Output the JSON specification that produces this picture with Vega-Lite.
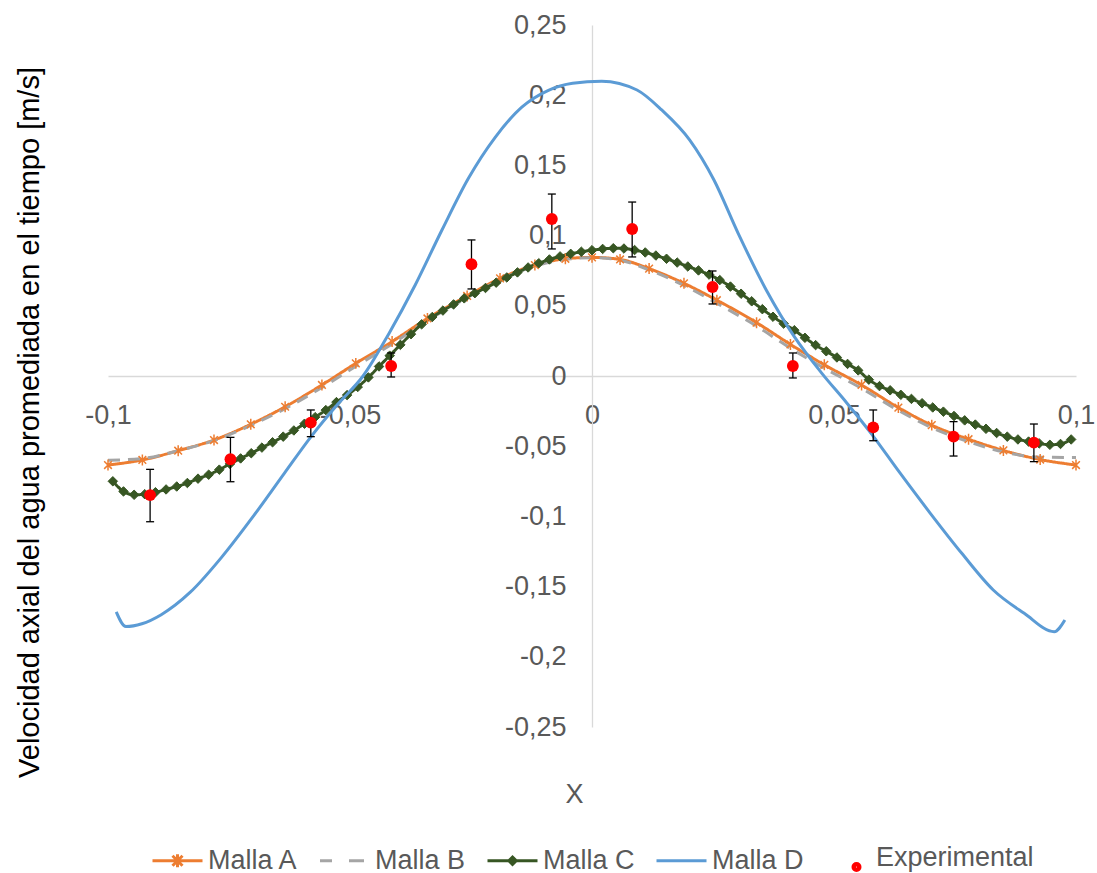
{
  "$schema": "https://vega.github.io/schema/vega-lite/v6.json",
  "width": 968,
  "height": 702,
  "autosize": {"type": "none"},
  "padding": {"left": 108, "top": 25, "right": 21, "bottom": 146},
  "background": "white",
  "config": {"view": {"stroke": null}, "font": "Liberation Sans"},
  "datasets": {
    "curves": [
      {"series":"Malla A","x":-0.1,"y":-0.0634},{"series":"Malla A","x":-0.0929,"y":-0.0598},{"series":"Malla A","x":-0.0855,"y":-0.0532},{"series":"Malla A","x":-0.0781,"y":-0.0456},{"series":"Malla A","x":-0.0705,"y":-0.0344},{"series":"Malla A","x":-0.0634,"y":-0.0219},{"series":"Malla A","x":-0.0558,"y":-0.0064},{"series":"Malla A","x":-0.0488,"y":0.009},{"series":"Malla A","x":-0.0413,"y":0.0245},{"series":"Malla A","x":-0.034,"y":0.041},{"series":"Malla A","x":-0.0258,"y":0.057},{"series":"Malla A","x":-0.019,"y":0.0695},{"series":"Malla A","x":-0.0118,"y":0.079},{"series":"Malla A","x":-0.0055,"y":0.0835},{"series":"Malla A","x":0.0,"y":0.0845},{"series":"Malla A","x":0.0058,"y":0.083},{"series":"Malla A","x":0.0118,"y":0.0765},{"series":"Malla A","x":0.019,"y":0.066},{"series":"Malla A","x":0.0258,"y":0.054},{"series":"Malla A","x":0.034,"y":0.038},{"series":"Malla A","x":0.041,"y":0.0225},{"series":"Malla A","x":0.048,"y":0.008},{"series":"Malla A","x":0.0557,"y":-0.0064},{"series":"Malla A","x":0.0633,"y":-0.0225},{"series":"Malla A","x":0.0702,"y":-0.035},{"series":"Malla A","x":0.0778,"y":-0.045},{"series":"Malla A","x":0.085,"y":-0.053},{"series":"Malla A","x":0.0926,"y":-0.0595},{"series":"Malla A","x":0.1,"y":-0.0634},
      {"series":"Malla B","x":-0.1,"y":-0.06},{"series":"Malla B","x":-0.0929,"y":-0.0588},{"series":"Malla B","x":-0.0855,"y":-0.0532},{"series":"Malla B","x":-0.0781,"y":-0.046},{"series":"Malla B","x":-0.0705,"y":-0.0352},{"series":"Malla B","x":-0.0634,"y":-0.0232},{"series":"Malla B","x":-0.0558,"y":-0.0082},{"series":"Malla B","x":-0.0488,"y":0.007},{"series":"Malla B","x":-0.0413,"y":0.0228},{"series":"Malla B","x":-0.034,"y":0.0395},{"series":"Malla B","x":-0.0258,"y":0.0558},{"series":"Malla B","x":-0.019,"y":0.0685},{"series":"Malla B","x":-0.0118,"y":0.0782},{"series":"Malla B","x":-0.0055,"y":0.083},{"series":"Malla B","x":0.0,"y":0.0843},{"series":"Malla B","x":0.0058,"y":0.0825},{"series":"Malla B","x":0.0118,"y":0.0755},{"series":"Malla B","x":0.019,"y":0.0645},{"series":"Malla B","x":0.0258,"y":0.0518},{"series":"Malla B","x":0.034,"y":0.0355},{"series":"Malla B","x":0.041,"y":0.0198},{"series":"Malla B","x":0.048,"y":0.0055},{"series":"Malla B","x":0.0557,"y":-0.0088},{"series":"Malla B","x":0.0633,"y":-0.0245},{"series":"Malla B","x":0.0702,"y":-0.0368},{"series":"Malla B","x":0.0778,"y":-0.0468},{"series":"Malla B","x":0.085,"y":-0.054},{"series":"Malla B","x":0.0926,"y":-0.0578},{"series":"Malla B","x":0.1,"y":-0.058},
      {"series":"Malla C","x":-0.099,"y":-0.075},{"series":"Malla C","x":-0.0968,"y":-0.0822},{"series":"Malla C","x":-0.0946,"y":-0.0846},{"series":"Malla C","x":-0.0924,"y":-0.0842},{"series":"Malla C","x":-0.0902,"y":-0.0828},{"series":"Malla C","x":-0.088,"y":-0.0808},{"series":"Malla C","x":-0.0858,"y":-0.0787},{"series":"Malla C","x":-0.0836,"y":-0.0762},{"series":"Malla C","x":-0.0814,"y":-0.0731},{"series":"Malla C","x":-0.0792,"y":-0.0703},{"series":"Malla C","x":-0.077,"y":-0.0667},{"series":"Malla C","x":-0.0748,"y":-0.0626},{"series":"Malla C","x":-0.0726,"y":-0.0587},{"series":"Malla C","x":-0.0704,"y":-0.055},{"series":"Malla C","x":-0.0682,"y":-0.051},{"series":"Malla C","x":-0.066,"y":-0.0472},{"series":"Malla C","x":-0.0638,"y":-0.0432},{"series":"Malla C","x":-0.0616,"y":-0.0388},{"series":"Malla C","x":-0.0594,"y":-0.034},{"series":"Malla C","x":-0.0572,"y":-0.0293},{"series":"Malla C","x":-0.055,"y":-0.0243},{"series":"Malla C","x":-0.0528,"y":-0.0186},{"series":"Malla C","x":-0.0506,"y":-0.0136},{"series":"Malla C","x":-0.0484,"y":-0.0078},{"series":"Malla C","x":-0.0462,"y":-0.001},{"series":"Malla C","x":-0.044,"y":0.0068},{"series":"Malla C","x":-0.0418,"y":0.0145},{"series":"Malla C","x":-0.0396,"y":0.0222},{"series":"Malla C","x":-0.0374,"y":0.0298},{"series":"Malla C","x":-0.0352,"y":0.0368},{"series":"Malla C","x":-0.033,"y":0.042},{"series":"Malla C","x":-0.0308,"y":0.0466},{"series":"Malla C","x":-0.0286,"y":0.051},{"series":"Malla C","x":-0.0264,"y":0.0553},{"series":"Malla C","x":-0.0242,"y":0.059},{"series":"Malla C","x":-0.022,"y":0.0627},{"series":"Malla C","x":-0.0198,"y":0.0665},{"series":"Malla C","x":-0.0176,"y":0.0702},{"series":"Malla C","x":-0.0154,"y":0.0738},{"series":"Malla C","x":-0.0132,"y":0.0773},{"series":"Malla C","x":-0.011,"y":0.0803},{"series":"Malla C","x":-0.0088,"y":0.083},{"series":"Malla C","x":-0.0066,"y":0.0852},{"series":"Malla C","x":-0.0044,"y":0.087},{"series":"Malla C","x":-0.0022,"y":0.0885},{"series":"Malla C","x":0.0,"y":0.0896},{"series":"Malla C","x":0.0022,"y":0.0905},{"series":"Malla C","x":0.0044,"y":0.091},{"series":"Malla C","x":0.0066,"y":0.0908},{"series":"Malla C","x":0.0088,"y":0.0897},{"series":"Malla C","x":0.011,"y":0.088},{"series":"Malla C","x":0.0132,"y":0.0858},{"series":"Malla C","x":0.0154,"y":0.0835},{"series":"Malla C","x":0.0176,"y":0.0808},{"series":"Malla C","x":0.0198,"y":0.078},{"series":"Malla C","x":0.022,"y":0.0752},{"series":"Malla C","x":0.0242,"y":0.0722},{"series":"Malla C","x":0.0264,"y":0.0683},{"series":"Malla C","x":0.0286,"y":0.0637},{"series":"Malla C","x":0.0308,"y":0.0586},{"series":"Malla C","x":0.033,"y":0.0532},{"series":"Malla C","x":0.0352,"y":0.0476},{"series":"Malla C","x":0.0374,"y":0.0422},{"series":"Malla C","x":0.0396,"y":0.0373},{"series":"Malla C","x":0.0418,"y":0.0326},{"series":"Malla C","x":0.044,"y":0.0272},{"series":"Malla C","x":0.0462,"y":0.022},{"series":"Malla C","x":0.0484,"y":0.0176},{"series":"Malla C","x":0.0506,"y":0.0132},{"series":"Malla C","x":0.0528,"y":0.0086},{"series":"Malla C","x":0.055,"y":0.004},{"series":"Malla C","x":0.0572,"y":-0.0026},{"series":"Malla C","x":0.0594,"y":-0.0072},{"series":"Malla C","x":0.0616,"y":-0.0102},{"series":"Malla C","x":0.0638,"y":-0.0134},{"series":"Malla C","x":0.066,"y":-0.0163},{"series":"Malla C","x":0.0682,"y":-0.0194},{"series":"Malla C","x":0.0704,"y":-0.0224},{"series":"Malla C","x":0.0726,"y":-0.0254},{"series":"Malla C","x":0.0748,"y":-0.0285},{"series":"Malla C","x":0.077,"y":-0.0316},{"series":"Malla C","x":0.0792,"y":-0.0346},{"series":"Malla C","x":0.0814,"y":-0.0376},{"series":"Malla C","x":0.0836,"y":-0.0406},{"series":"Malla C","x":0.0858,"y":-0.0432},{"series":"Malla C","x":0.088,"y":-0.0452},{"series":"Malla C","x":0.0902,"y":-0.0467},{"series":"Malla C","x":0.0924,"y":-0.048},{"series":"Malla C","x":0.0946,"y":-0.049},{"series":"Malla C","x":0.0968,"y":-0.0484},{"series":"Malla C","x":0.099,"y":-0.0452},
      {"series":"Malla D","x":-0.0983,"y":-0.168},{"series":"Malla D","x":-0.0963,"y":-0.1785},{"series":"Malla D","x":-0.093,"y":-0.1765},{"series":"Malla D","x":-0.089,"y":-0.17},{"series":"Malla D","x":-0.083,"y":-0.154},{"series":"Malla D","x":-0.0765,"y":-0.129},{"series":"Malla D","x":-0.07,"y":-0.1},{"series":"Malla D","x":-0.0635,"y":-0.069},{"series":"Malla D","x":-0.058,"y":-0.043},{"series":"Malla D","x":-0.0525,"y":-0.02},{"series":"Malla D","x":-0.0473,"y":0.0},{"series":"Malla D","x":-0.042,"y":0.03},{"series":"Malla D","x":-0.0365,"y":0.065},{"series":"Malla D","x":-0.031,"y":0.104},{"series":"Malla D","x":-0.0255,"y":0.141},{"series":"Malla D","x":-0.02,"y":0.17},{"series":"Malla D","x":-0.0145,"y":0.1915},{"series":"Malla D","x":-0.009,"y":0.2035},{"series":"Malla D","x":-0.004,"y":0.2085},{"series":"Malla D","x":0.002,"y":0.21},{"series":"Malla D","x":0.0093,"y":0.2037},{"series":"Malla D","x":0.0144,"y":0.1895},{"series":"Malla D","x":0.0202,"y":0.168},{"series":"Malla D","x":0.0252,"y":0.1396},{"series":"Malla D","x":0.0302,"y":0.1016},{"series":"Malla D","x":0.036,"y":0.0613},{"series":"Malla D","x":0.0418,"y":0.028},{"series":"Malla D","x":0.0475,"y":0.0019},{"series":"Malla D","x":0.0526,"y":-0.019},{"series":"Malla D","x":0.0577,"y":-0.041},{"series":"Malla D","x":0.0634,"y":-0.068},{"series":"Malla D","x":0.0699,"y":-0.0978},{"series":"Malla D","x":0.0764,"y":-0.1263},{"series":"Malla D","x":0.0829,"y":-0.1524},{"series":"Malla D","x":0.0893,"y":-0.169},{"series":"Malla D","x":0.0955,"y":-0.1821},{"series":"Malla D","x":0.0977,"y":-0.1738}
    ],
    "exp": [
      {"x":-0.0913,"y":-0.0848,"lo":-0.1038,"hi":-0.0665},
      {"x":-0.0747,"y":-0.0593,"lo":-0.0753,"hi":-0.0437},
      {"x":-0.0581,"y":-0.0332,"lo":-0.0432,"hi":-0.0242},
      {"x":-0.0415,"y":0.0071,"lo":-0.0007,"hi":0.0164},
      {"x":-0.0249,"y":0.0796,"lo":0.062,"hi":0.0969},
      {"x":-0.0083,"y":0.1118,"lo":0.0905,"hi":0.1296},
      {"x":0.0083,"y":0.1047,"lo":0.0848,"hi":0.1239},
      {"x":0.0249,"y":0.0634,"lo":0.0513,"hi":0.0748},
      {"x":0.0415,"y":0.0071,"lo":-0.0014,"hi":0.0164},
      {"x":0.0581,"y":-0.0366,"lo":-0.0461,"hi":-0.0242},
      {"x":0.0747,"y":-0.0432,"lo":-0.057,"hi":-0.0325},
      {"x":0.0913,"y":-0.0475,"lo":-0.061,"hi":-0.0342}
    ],
    "legendEmpty": []
  },
  "encoding": {
    "x": {
      "field": "x", "type": "quantitative",
      "scale": {"domain": [-0.1, 0.1], "nice": false, "zero": false},
      "axis": {
        "orient": "bottom", "offset": -351,
        "values": [-0.1, -0.05, 0, 0.05, 0.1],
        "labelExpr": "replace(toString(datum.value), '.', ',')",
        "grid": false, "ticks": false, "tickSize": 0,
        "domainColor": "#D9D9D9", "domainWidth": 1.3,
        "labelFontSize": 27, "labelColor": "#595959", "labelPadding": 26,
        "labelFlush": false, "labelOverlap": false,
        "title": "X", "titleFontSize": 27, "titleColor": "#595959", "titleFontWeight": "normal",
        "titleX": 466, "titleY": 418, "titleBaseline": "middle", "titleAlign": "center"
      }
    },
    "y": {
      "field": "y", "type": "quantitative",
      "scale": {"domain": [-0.25, 0.25], "nice": false, "zero": false},
      "axis": {
        "orient": "left", "offset": -484,
        "values": [-0.25, -0.2, -0.15, -0.1, -0.05, 0, 0.05, 0.1, 0.15, 0.2, 0.25],
        "labelExpr": "replace(toString(datum.value), '.', ',')",
        "grid": false, "ticks": false, "tickSize": 0,
        "domainColor": "#D9D9D9", "domainWidth": 1.3,
        "labelFontSize": 27, "labelColor": "#595959", "labelPadding": 26,
        "labelFlush": false, "labelOverlap": false,
        "title": "Velocidad axial del agua promediada  en el tiempo [m/s]",
        "titleFontSize": 29, "titleColor": "#000000", "titleFontWeight": "normal",
        "titleAngle": 270, "titleX": -563, "titleY": 397, "titleBaseline": "middle", "titleAlign": "center"
      }
    }
  },
  "layer": [
    {
      "data": {"name": "curves"},
      "transform": [{"filter": "datum.series !== 'Malla D'"}],
      "mark": {"type": "line", "interpolate": "monotone", "strokeWidth": 3},
      "encoding": {
        "stroke": {"field": "series", "type": "nominal", "scale": {"domain": ["Malla A", "Malla B", "Malla C"], "range": ["#ED7D31", "#A5A5A5", "#375623"]}, "legend": null},
        "strokeDash": {"field": "series", "type": "nominal", "scale": {"domain": ["Malla A", "Malla B", "Malla C"], "range": [[1, 0], [12, 8], [1, 0]]}, "legend": null}
      }
    },
    {
      "data": {"name": "curves"},
      "transform": [{"filter": "datum.series === 'Malla A'"}],
      "mark": {"type": "point", "shape": "M-0.7,-0.7L0.7,0.7M-0.7,0.7L0.7,-0.7M0,-1V1", "size": 120, "filled": false, "color": "#ED7D31", "strokeWidth": 1.5, "opacity": 1}
    },
    {
      "data": {"name": "curves"},
      "transform": [{"filter": "datum.series === 'Malla C'"}],
      "mark": {"type": "point", "shape": "diamond", "size": 90, "filled": true, "color": "#375623", "stroke": "#375623", "strokeWidth": 1, "opacity": 1}
    },
    {
      "data": {"name": "curves"},
      "transform": [{"filter": "datum.series === 'Malla D'"}],
      "mark": {"type": "line", "interpolate": "monotone", "strokeWidth": 3, "color": "#5B9BD5"}
    },
    {
      "data": {"name": "exp"},
      "mark": {"type": "rule", "color": "black", "strokeWidth": 1.3},
      "encoding": {
        "y": {"field": "lo", "type": "quantitative"},
        "y2": {"field": "hi"}
      }
    },
    {
      "data": {"name": "exp"},
      "mark": {"type": "tick", "orient": "horizontal", "color": "black", "size": 8, "thickness": 1.3, "opacity": 1},
      "encoding": {"y": {"field": "lo", "type": "quantitative"}}
    },
    {
      "data": {"name": "exp"},
      "mark": {"type": "tick", "orient": "horizontal", "color": "black", "size": 8, "thickness": 1.3, "opacity": 1},
      "encoding": {"y": {"field": "hi", "type": "quantitative"}}
    },
    {
      "data": {"name": "exp"},
      "mark": {"type": "circle", "color": "#FF0000", "size": 140, "opacity": 1}
    },
    {
      "data": {"name": "legendEmpty"},
      "mark": {"type": "point", "filled": false, "strokeWidth": 3, "opacity": 1},
      "encoding": {
        "color": {
          "field": "series", "type": "nominal",
          "scale": {"domain": ["Malla A", "Malla B", "Malla C", "Malla D", "Experimental"], "range": ["#ED7D31", "#A5A5A5", "#375623", "#5B9BD5", "#FF0000"]},
          "legend": {"title": null, "orient": "none", "legendX": 43, "legendY": 806, "direction": "horizontal", "symbolSize": 2500, "symbolStrokeWidth": 3, "labelFontSize": 27, "labelColor": "#595959", "labelOffset": 4, "columnPadding": 15, "padding": 0, "labelLimit": 400}
        },
        "shape": {
          "field": "series", "type": "nominal",
          "scale": {"domain": ["Malla A", "Malla B", "Malla C", "Malla D", "Experimental"], "range": [
            "M-1,0H1M-0.2,-0.2L0.2,0.2M-0.2,0.2L0.2,-0.2M0,-0.26V0.26",
            "M-0.98,0H-0.5M0.18,0H0.78",
            "M-1,0H1M0,-0.15L0.15,0L0,0.15L-0.15,0ZM0,-0.05L0.05,0L0,0.05L-0.05,0Z",
            "M-1,0H1",
            "M0.3,0.36A0.14,0.14,0,1,0,0.58,0.36A0.14,0.14,0,1,0,0.3,0.36ZM0.4,0.36A0.04,0.04,0,1,0,0.48,0.36A0.04,0.04,0,1,0,0.4,0.36Z"
          ]},
          "legend": {"title": null, "orient": "none", "legendX": 43, "legendY": 806, "direction": "horizontal", "symbolSize": 2500, "symbolStrokeWidth": 3, "labelFontSize": 27, "labelColor": "#595959", "labelOffset": 4, "columnPadding": 15, "padding": 0, "labelLimit": 400}
        }
      }
    }
  ]
}
